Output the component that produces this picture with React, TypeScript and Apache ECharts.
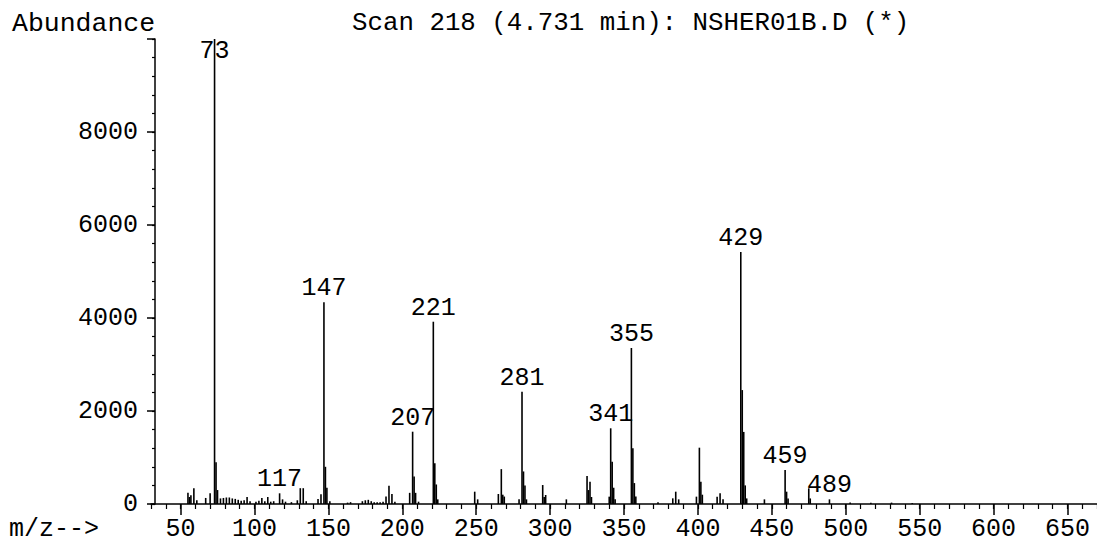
import React, { useEffect, useRef } from 'react';
import * as echarts from 'echarts';

const MZ = [
  55, 56, 57, 59, 61, 67, 70, 73, 74, 75, 77, 79, 81, 83, 85, 87, 89, 91, 93, 95,
  97, 101, 103, 105, 107, 109, 111, 113, 117, 119, 121, 125, 129, 131, 133, 135,
  143, 145, 147, 148, 149, 151, 163, 165, 173, 175, 177, 179, 181, 183, 185, 187,
  189, 191, 193, 195, 205, 207, 208, 209, 211, 221, 222, 223, 224, 249, 251, 265,
  267, 268, 269, 279, 281, 282, 283, 284, 295, 296, 297, 311, 325, 326, 327, 328,
  340, 341, 342, 343, 344, 355, 356, 357, 358, 373, 383, 385, 387, 399, 401, 402,
  403, 413, 415, 417, 429, 430, 431, 432, 433, 445, 459, 460, 461, 475, 476, 489,
  503, 517, 531, 545,
];

const ABUNDANCE = [
  240, 150, 190, 340, 80, 130, 230, 10000, 900, 300, 120, 130, 140, 140, 120, 110, 90, 70, 80, 150,
  60, 50, 70, 130, 60, 150, 50, 60, 230, 100, 50, 40, 80, 340, 340, 60,
  110, 210, 4340, 800, 350, 60, 30, 40, 60, 80, 90, 60, 40, 40, 40, 50,
  160, 390, 215, 50, 240, 1555, 590, 240, 50, 3920, 875, 420, 100, 265, 100, 215,
  750, 200, 160, 100, 2415, 700, 400, 100, 408, 150, 194, 100, 600, 300, 480, 150,
  158, 1628, 910, 350, 100, 3355, 1197, 450, 160, 40, 122, 265, 100, 158, 1211, 480,
  200, 158, 230, 100, 5420, 2450, 1550, 400, 120, 100, 731, 265, 120, 337, 120, 100,
  30, 25, 30, 20,
];

const LABELED_MZ = [73, 117, 147, 207, 221, 281, 341, 355, 429, 459, 489];

const X_MAJOR_TICKS = [50, 100, 150, 200, 250, 300, 350, 400, 450, 500, 550, 600, 650];

const TITLE = 'Scan 218 (4.731 min): NSHER01B.D (*)';
const Y_NAME = 'Abundance';
const X_NAME = 'm/z-->';

export default function App() {
  const ref = useRef<HTMLDivElement>(null);

  useEffect(() => {
    const chart = echarts.init(ref.current as HTMLDivElement, null, { renderer: 'svg' });
    const font = "'Liberation Mono', 'Courier New', monospace";
    const black = '#000';

    const data = MZ.map((m, i) => {
      const item: any = { value: [m, ABUNDANCE[i]] };
      if (LABELED_MZ.includes(m)) {
        item.label = {
          show: true,
          position: m === 73 ? 'insideTop' : 'top',
          distance: m === 73 ? 0 : 1,
        };
      }
      return item;
    });

    chart.setOption({
      animation: false,
      backgroundColor: '#fff',
      grid: { left: 151, right: -1, top: 39, bottom: 40, containLabel: false },
      xAxis: [
        {
          type: 'value',
          position: 'bottom',
          min: 30,
          max: 670,
          axisLine: { show: true, onZero: false, lineStyle: { color: black, width: 1.5 } },
          splitLine: { show: false },
          axisTick: {
            show: true,
            customValues: X_MAJOR_TICKS,
            length: 11,
            lineStyle: { color: black, width: 1.5 },
          },
          axisLabel: {
            customValues: X_MAJOR_TICKS,
            color: black,
            fontFamily: font,
            fontSize: 25,
            margin: 13,
          },
        },
        {
          type: 'value',
          position: 'bottom',
          min: 30,
          max: 670,
          interval: 10,
          axisLine: { show: false, onZero: false },
          splitLine: { show: false },
          axisTick: { show: true, length: 5, lineStyle: { color: black, width: 1.2 } },
          axisLabel: { show: false },
        },
      ],
      yAxis: [
        {
          type: 'value',
          position: 'left',
          offset: -4,
          min: 0,
          max: 10000,
          interval: 2000,
          axisLine: { show: true, lineStyle: { color: black, width: 1.5 } },
          splitLine: { show: false },
          axisTick: { show: true, length: 8, lineStyle: { color: black, width: 1.5 } },
          axisLabel: {
            color: black,
            fontFamily: font,
            fontSize: 25,
            margin: 17,
            formatter: (v: number) => (v >= 10000 ? '' : String(v)),
          },
        },
        {
          type: 'value',
          position: 'left',
          offset: -4,
          min: 0,
          max: 10000,
          interval: 400,
          axisLine: { show: false },
          splitLine: { show: false },
          axisTick: { show: true, length: 3, lineStyle: { color: black, width: 1.2 } },
          axisLabel: { show: false },
        },
      ],
      series: [
        {
          type: 'bar',
          xAxisIndex: 0,
          yAxisIndex: 0,
          barWidth: 1.6,
          barGap: '-100%',
          itemStyle: { color: black },
          label: {
            show: false,
            color: black,
            fontFamily: font,
            fontSize: 25,
            formatter: (p: any) => String(p.value[0]),
          },
          data,
        },
      ],
      graphic: [
        {
          type: 'text',
          left: 12,
          top: 10,
          style: { text: Y_NAME, fill: black, font: `26.5px ${font}` },
        },
        {
          type: 'text',
          left: 352,
          top: 10,
          style: { text: TITLE, fill: black, font: `25.8px ${font}` },
        },
        {
          type: 'text',
          left: 9,
          top: 517,
          style: { text: X_NAME, fill: black, font: `25px ${font}` },
        },
      ],
    });

    return () => chart.dispose();
  }, []);

  return (
    <div
      ref={ref}
      style={{ position: 'fixed', left: 0, top: 0, width: 1097, height: 544 }}
    />
  );
}
